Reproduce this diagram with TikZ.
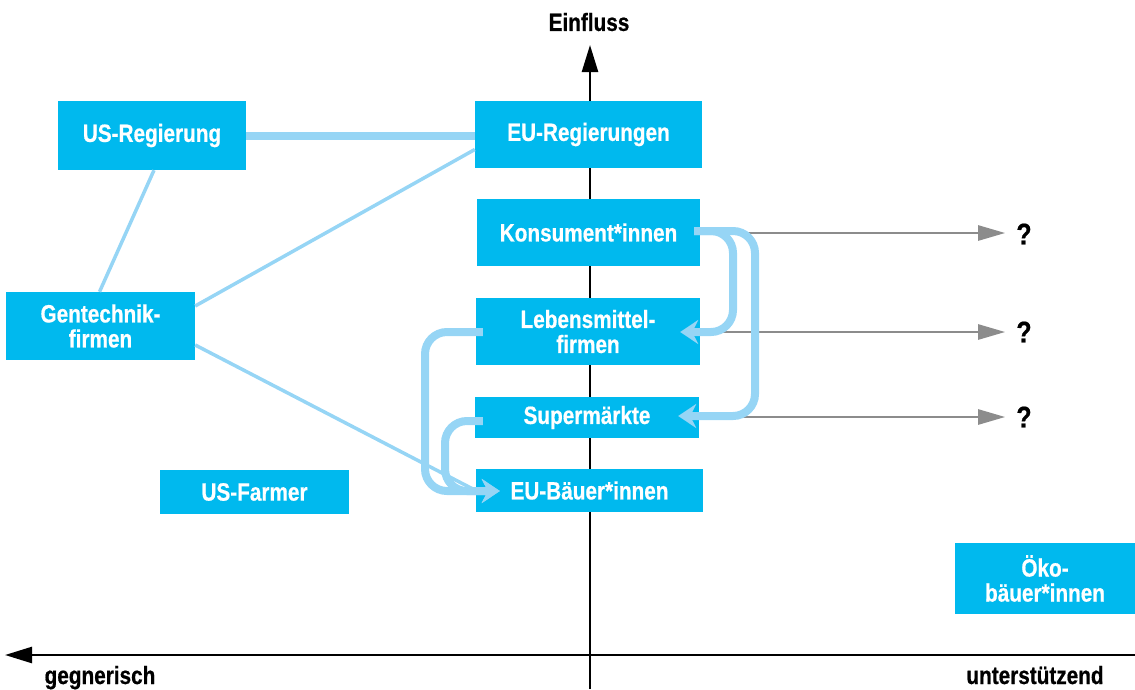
\documentclass[tikz,border=0pt]{standalone}
\usepackage{fontspec}
\setmainfont[FakeStretch=0.83, BoldFeatures={FakeBold=0.6}]{Liberation Sans}
\usetikzlibrary{arrows.meta}
\definecolor{boxblue}{HTML}{00B9EE}
\definecolor{linkblue}{HTML}{96D5F5}
\definecolor{arrgray}{HTML}{8C8C8C}
\tikzset{
  actor/.style={fill=boxblue, text=white, font=\fontsize{25}{25}\selectfont\bfseries, align=center, inner sep=0pt},
  axislabel/.style={text=black, font=\fontsize{25}{25}\selectfont\bfseries, inner sep=0pt},
  qmark/.style={text=black, font=\fontsize{30}{30}\selectfont\bfseries, inner sep=0pt},
  axisline/.style={line width=2.5pt, black, -{Triangle[length=27pt,width=16pt]}},
  thinlink/.style={linkblue, line width=3.5pt},
  thicklink/.style={linkblue, line width=8pt},
  flow/.style={linkblue, line width=8pt, rounded corners=22pt, -{Stealth[length=18pt,width=24pt,inset=6pt]}},
  grayarrow/.style={arrgray, line width=2.5pt, -{Triangle[length=27pt,width=15pt]}},
}
\begin{document}
\begin{tikzpicture}[x=1pt,y=-1pt]
\useasboundingbox (0,0) rectangle (1135,689);
% axes
\coordinate (vbot) at (590,689);
\coordinate (vtop) at (590,45);
\coordinate (hl) at (5,655);
\coordinate (hr) at (1135,655);
\draw[axisline] (vbot) -- (vtop);
\draw[axisline] (hr) -- (hl);
\node[axislabel] (einfluss) at (589,22) {Einfluss};
\node[axislabel, anchor=base] (gegn) at (100,684) {gegnerisch};
\node[axislabel, anchor=base] (unter) at (1035,684) {unterstützend};
% boxes
\node[actor, minimum width=188pt, minimum height=69pt] (usreg) at (152,135.5) {US-Regierung};
\node[actor, minimum width=227pt, minimum height=67pt] (eureg) at (588.5,134.5) {EU-Regierungen};
\node[actor, minimum width=223pt, minimum height=67pt] (kons) at (588.5,232.5) {Konsument*innen};
\node[actor, minimum width=224pt, minimum height=67pt] (lebm) at (588,331.5) {Lebensmittel-\\firmen};
\node[actor, minimum width=224pt, minimum height=41pt] (superm) at (587,417.5) {Supermärkte};
\node[actor, minimum width=227pt, minimum height=43pt] (eubau) at (589.5,490.5) {EU-Bäuer*innen};
\node[actor, minimum width=189pt, minimum height=68pt] (gent) at (100.5,326) {Gentechnik-\\firmen};
\node[actor, minimum width=189pt, minimum height=44pt] (usfarm) at (254.5,492) {US-Farmer};
\node[actor, minimum width=180pt, minimum height=71pt] (oeko) at (1045,578.5) {Öko-\\bäuer*innen};
% question marks
\node[qmark] (q1) at (1024,234) {?};
\node[qmark] (q2) at (1024,332) {?};
\node[qmark] (q3) at (1024,417) {?};
% gray arrows
\draw[grayarrow] (kons.east |- 0,233) -- ([xshift=-11pt]q1.west |- 0,233);
\draw[grayarrow] (lebm.east |- 0,332) -- ([xshift=-11pt]q2.west |- 0,332);
\draw[grayarrow] (superm.east |- 0,417) -- ([xshift=-11pt]q3.west |- 0,417);
% links
\draw[thicklink] (usreg.east) -- (eureg.west |- usreg.east);
\draw[thinlink] ([xshift=2pt]usreg.south) -- ([xshift=-1pt]gent.north);
\draw[thinlink] ([yshift=20pt]gent.east) -- ([yshift=-15pt]eureg.west);
\draw[thinlink] ([yshift=-19pt]gent.east) -- (eubau.west);
% flows
\draw[flow] ([xshift=-6pt]kons.east |- 0,231) -- (733,231) -- (733,332) -- ([xshift=-20pt]lebm.east |- 0,332);
\draw[flow] ([xshift=-6pt]kons.east |- 0,231) -- (755,231) -- (755,416) -- ([xshift=-21pt]superm.east |- 0,416);
\draw[flow] ([xshift=7pt]lebm.west |- 0,332) -- (425,332) -- (425,491) -- ([xshift=24pt]eubau.west |- 0,491);
\draw[flow] ([xshift=8pt]superm.west |- 0,421) -- (445,421) -- (445,491) -- ([xshift=24pt]eubau.west |- 0,491);
\end{tikzpicture}
\end{document}
